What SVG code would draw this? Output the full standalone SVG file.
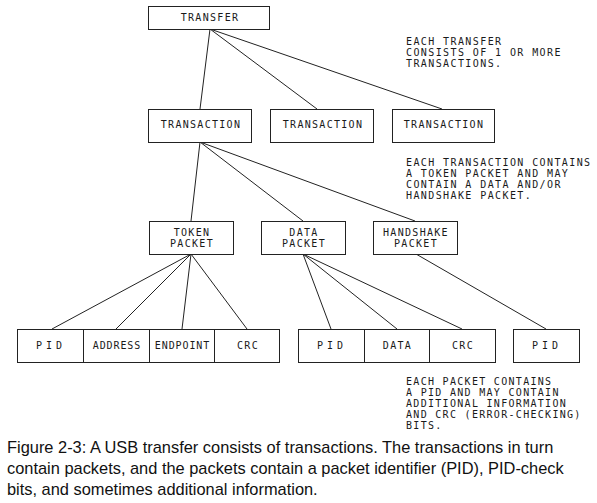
<svg xmlns="http://www.w3.org/2000/svg" width="597" height="503" viewBox="0 0 597 503">
<style>
.box{fill:#fff;stroke:#222;stroke-width:1}
.lbl{font-family:"DejaVu Sans Mono",monospace;font-size:10px;letter-spacing:1.3px;fill:#1a1a1a;text-anchor:middle}
.note{font-family:"DejaVu Sans Mono",monospace;font-size:10px;letter-spacing:1.4px;fill:#1a1a1a}
.cap{font-family:"Liberation Sans",Arial,sans-serif;font-size:16.4px;fill:#111}
.conn line{stroke:#222;stroke-width:1}
</style>
<rect width="597" height="503" fill="#fff"/>
<g class="conn">
<line x1="210" y1="29" x2="200" y2="109"/>
<line x1="210" y1="29" x2="317" y2="109"/>
<line x1="210" y1="29" x2="442" y2="109"/>
<line x1="200" y1="142" x2="191" y2="221"/>
<line x1="200" y1="142" x2="303" y2="221"/>
<line x1="200" y1="142" x2="415" y2="221"/>
<line x1="191" y1="254" x2="52" y2="329"/>
<line x1="191" y1="254" x2="116" y2="329"/>
<line x1="191" y1="254" x2="182" y2="329"/>
<line x1="191" y1="254" x2="247" y2="329"/>
<line x1="303" y1="254" x2="331" y2="329"/>
<line x1="303" y1="254" x2="397" y2="329"/>
<line x1="303" y1="254" x2="462" y2="329"/>
<line x1="416" y1="254" x2="546" y2="329"/>
</g>
<g id="transfer"><rect class="box" x="148.5" y="6.5" width="121" height="23"/><text class="lbl" x="210" y="21">TRANSFER</text></g>
<g id="transaction1"><rect class="box" x="148.5" y="109.5" width="103" height="33"/><text class="lbl" x="201" y="128">TRANSACTION</text></g>
<g id="transaction2"><rect class="box" x="270.5" y="109.5" width="103" height="33"/><text class="lbl" x="323" y="128">TRANSACTION</text></g>
<g id="transaction3"><rect class="box" x="392.5" y="109.5" width="102" height="33"/><text class="lbl" x="444" y="128">TRANSACTION</text></g>
<g id="token"><rect class="box" x="149.5" y="221.5" width="84" height="33"/><text class="lbl" x="192" y="236">TOKEN</text><text class="lbl" x="192" y="247">PACKET</text></g>
<g id="data"><rect class="box" x="261.5" y="221.5" width="84" height="33"/><text class="lbl" x="304" y="236">DATA</text><text class="lbl" x="304" y="247">PACKET</text></g>
<g id="handshake"><rect class="box" x="373.5" y="221.5" width="84" height="33"/><text class="lbl" x="416" y="236">HANDSHAKE</text><text class="lbl" x="416" y="247">PACKET</text></g>
<g id="tok-pid"><rect class="box" x="17.5" y="329.5" width="66" height="33"/><text class="lbl" x="51" y="348.5" style="letter-spacing:4px">PID</text></g>
<g id="tok-address"><rect class="box" x="83.5" y="329.5" width="66" height="33"/><text class="lbl" x="117" y="348.5" style="letter-spacing:0.9px">ADDRESS</text></g>
<g id="tok-endpoint"><rect class="box" x="149.5" y="329.5" width="65" height="33"/><text class="lbl" x="182.5" y="348.5" style="letter-spacing:0.9px">ENDPOINT</text></g>
<g id="tok-crc"><rect class="box" x="214.5" y="329.5" width="65" height="33"/><text class="lbl" x="248" y="348.5">CRC</text></g>
<g id="data-pid"><rect class="box" x="298.5" y="329.5" width="66" height="33"/><text class="lbl" x="332" y="348.5" style="letter-spacing:4px">PID</text></g>
<g id="data-data"><rect class="box" x="364.5" y="329.5" width="65" height="33"/><text class="lbl" x="397.5" y="348.5">DATA</text></g>
<g id="data-crc"><rect class="box" x="429.5" y="329.5" width="66" height="33"/><text class="lbl" x="463" y="348.5">CRC</text></g>
<g id="hs-pid"><rect class="box" x="513.5" y="329.5" width="66" height="33"/><text class="lbl" x="547" y="348.5" style="letter-spacing:4px">PID</text></g>
<g id="notes">
<text class="note" x="406" y="45">EACH TRANSFER</text>
<text class="note" x="406" y="56">CONSISTS OF 1 OR MORE</text>
<text class="note" x="406" y="67">TRANSACTIONS.</text>
<text class="note" x="406" y="166">EACH TRANSACTION CONTAINS</text>
<text class="note" x="406" y="177">A TOKEN PACKET AND MAY</text>
<text class="note" x="406" y="188">CONTAIN A DATA AND/OR</text>
<text class="note" x="406" y="199">HANDSHAKE PACKET.</text>
<text class="note" x="406" y="385" style="letter-spacing:1.3px">EACH PACKET CONTAINS</text>
<text class="note" x="406" y="396" style="letter-spacing:1.3px">A PID AND MAY CONTAIN</text>
<text class="note" x="406" y="407" style="letter-spacing:1.3px">ADDITIONAL INFORMATION</text>
<text class="note" x="406" y="418" style="letter-spacing:1.3px">AND CRC (ERROR-CHECKING)</text>
<text class="note" x="406" y="429" style="letter-spacing:1.3px">BITS.</text>
</g>
<g id="caption">
<text class="cap" x="7" y="453">Figure 2-3: A USB transfer consists of transactions. The transactions in turn</text>
<text class="cap" x="7" y="474">contain packets, and the packets contain a packet identifier (PID), PID-check</text>
<text class="cap" x="7" y="495">bits, and sometimes additional information.</text>
</g>
</svg>
